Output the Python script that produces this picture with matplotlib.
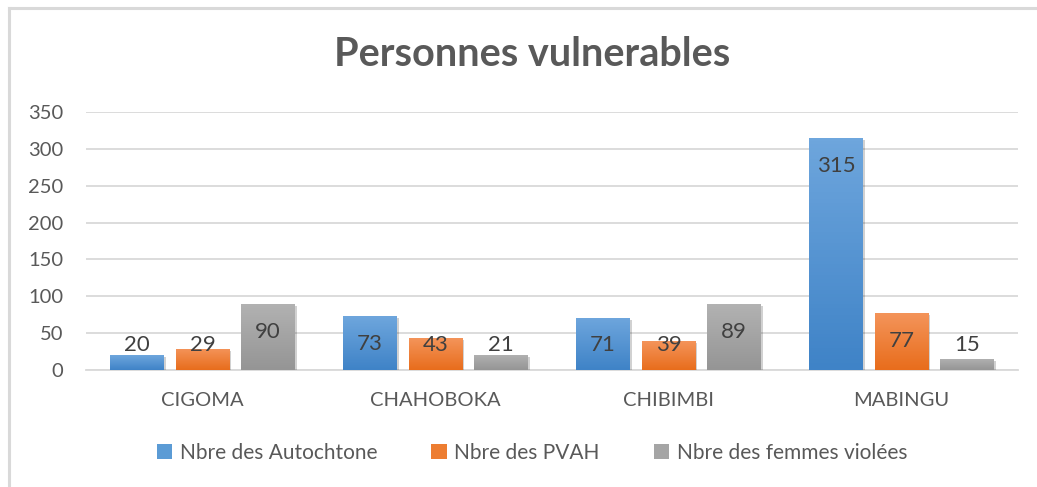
import numpy as np
import matplotlib
matplotlib.use("Agg")
import matplotlib.pyplot as plt
from matplotlib.patches import Patch
from matplotlib.lines import Line2D
import matplotlib.patheffects as pe
from matplotlib.colors import LinearSegmentedColormap

plt.rcParams['font.family'] = ['Lato', 'DejaVu Sans']

title = "Personnes vulnerables"
categories = ["CIGOMA", "CHAHOBOKA", "CHIBIMBI", "MABINGU"]
series_names = ["Nbre des Autochtone", "Nbre des PVAH", "Nbre des femmes violées"]
autochtone = [20, 73, 71, 315]
pvah = [29, 43, 39, 77]
femmes = [90, 21, 89, 15]
yticks = [0, 50, 100, 150, 200, 250, 300, 350]

series = [autochtone, pvah, femmes]
grad = [("#6EA6DD", "#3F83C7"), ("#F4945A", "#E86D1C"), ("#B2B2B2", "#959595")]
solid = ["#5B9BD5", "#ED7D31", "#A5A5A5"]
text_col = "#595959"
label_col = "#404040"
grid_col = "#D9D9D9"

W, H = 1037, 487
fig = plt.figure(figsize=(W / 100, H / 100), dpi=100)
ax = fig.add_axes([86 / W, 1 - 370 / H, (1018 - 86) / W, (370 - 112) / H])

x = np.arange(len(categories))
bw = 0.229
step = 0.281
px_per_unit = (370 - 112) / 350.0

for i, vals in enumerate(series):
    pos = x + (i - 1) * step
    bars = ax.bar(pos, vals, width=bw, color=solid[i], zorder=3, linewidth=0)
    cmap = LinearSegmentedColormap.from_list("g%d" % i, [grad[i][1], grad[i][0]])
    for b, v in zip(bars, vals):
        b.set_path_effects([pe.SimplePatchShadow(offset=(1.5, -1.5), shadow_rgbFace="#000000", alpha=0.18), pe.Normal()])
        x0 = b.get_x()
        im = ax.imshow(np.linspace(0, 1, 64).reshape(-1, 1), cmap=cmap, aspect='auto',
                       extent=(x0, x0 + b.get_width(), 0, v), origin='lower', zorder=4)
        im.set_clip_path(b)
        # label: inside end, clamped near the base
        ly = max(v - 28 / px_per_unit, 25 / px_per_unit)
        ax.text(b.get_x() + b.get_width() / 2, ly, str(v), ha='center', va='center',
                fontsize=16, color=label_col, zorder=6)

ax.set_xlim(-0.5, len(categories) - 0.5)
ax.set_ylim(0, 350)
ax.set_yticks(yticks)
ax.set_yticklabels([str(t) for t in yticks], fontsize=14.5, color=text_col)
ax.set_xticks(x)
ax.set_xticklabels(categories, fontsize=14.5, color=text_col)
ax.tick_params(axis='both', length=0)
ax.tick_params(axis='y', pad=16.5)
ax.tick_params(axis='x', pad=16)
ax.grid(axis='y', color=grid_col, linewidth=1.3, zorder=0)
ax.set_axisbelow(True)
for s in ['top', 'right', 'left']:
    ax.spines[s].set_visible(False)
ax.spines['bottom'].set_color(grid_col)
ax.spines['bottom'].set_linewidth(1.3)
ax.spines['bottom'].set_zorder(2)

fig.text(532 / W, 1 - 54 / H, title, ha='center', va='center', fontsize=28.5,
         fontweight='bold', color=text_col)

handles = [Patch(facecolor=c, edgecolor='none') for c in solid]
leg = fig.legend(handles, series_names, loc='center', bbox_to_anchor=(532 / W, 1 - 453 / H),
                 ncol=3, frameon=False, fontsize=15, handlelength=0.75, handleheight=0.75,
                 handletextpad=0.35, columnspacing=2.6)
for t in leg.get_texts():
    t.set_color(text_col)

# chart frame (partially visible)
fig.add_artist(Line2D([9 / W, 1], [1 - 7.5 / H, 1 - 7.5 / H], color="#D9D9D9", linewidth=2.2))
fig.add_artist(Line2D([9 / W, 9 / W], [0, 1 - 7.5 / H], color="#D9D9D9", linewidth=2.2))

fig.savefig("out.png", dpi=100)
